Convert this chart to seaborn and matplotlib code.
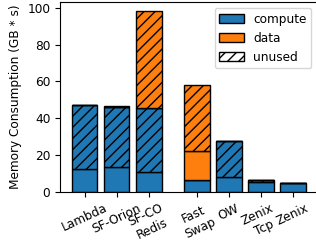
import matplotlib
matplotlib.use("Agg")
import matplotlib.pyplot as plt
from matplotlib.patches import Patch
import seaborn as sns

# bar layout / values (GB * s)
labels = ["Lambda", "SF-Orion", "SF-CO\nRedis", "Fast\nSwap", "OW", "Zenix\nTcp", "Zenix"]
positions = [0, 1, 2, 3.5, 4.5, 5.5, 6.5]
compute_used = [12.2, 13.5, 10.8, 6.1, 8.0, 5.2, 4.6]
compute_unused = [34.8, 32.7, 34.6, 0.0, 19.4, 0.9, 0.0]
data_used = [0.0, 0.0, 0.0, 16.2, 0.0, 0.0, 0.0]
data_unused = [0.0, 0.5, 53.2, 35.7, 0.0, 0.4, 0.0]

BLUE = "#1f77b4"
ORANGE = "#ff7f0e"
DPI = 100
FS = 8.7
HATCH = "///"

plt.rcParams["font.size"] = FS

fig = plt.figure(figsize=(316 / DPI, 244 / DPI), dpi=DPI)
ax = fig.add_axes([60 / 316, 1 - 191.7 / 244, 257.5 / 316, 190 / 244])

layers = [
    (compute_used, BLUE, None),
    (compute_unused, BLUE, HATCH),
    (data_used, ORANGE, None),
    (data_unused, ORANGE, HATCH),
]
bottom = [0.0] * len(positions)
for vals, col, hatch in layers:
    sns.barplot(x=positions, y=vals, native_scale=True, bottom=bottom,
                color=col, saturation=1, edgecolor="black", linewidth=1,
                hatch=hatch, errorbar=None, width=0.8, ax=ax)
    bottom = [b + v for b, v in zip(bottom, vals)]

ax.set_xticks(positions)
ax.set_xticklabels(labels, rotation=25, ha="center")
ax.set_ylabel("Memory Consumption (GB * s)")
ax.set_ylim(0, 103.4)
ax.set_xlim(-0.77, 7.27)

handles = [
    Patch(facecolor=BLUE, edgecolor="black", label="compute"),
    Patch(facecolor=ORANGE, edgecolor="black", label="data"),
    Patch(facecolor="white", edgecolor="black", hatch=HATCH, label="unused"),
]
ax.legend(handles=handles, loc="upper right", fontsize=FS)

fig.savefig("out.png", dpi=DPI)
